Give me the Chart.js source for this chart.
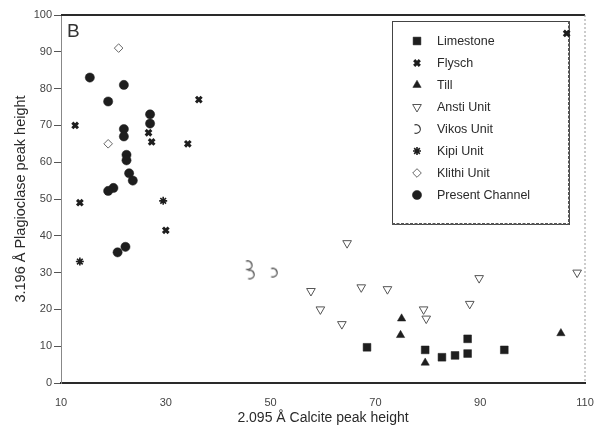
<!DOCTYPE html>
<html>
<head>
<meta charset="utf-8">
<script src="https://cdn.jsdelivr.net/npm/chart.js@4/dist/chart.umd.min.js"></script>
<style>
  html, body { margin: 0; padding: 0; background: #fff; }
  #wrap { width: 599px; height: 431px; }
</style>
</head>
<body>
<div id="wrap"><canvas id="plot" width="599" height="431"></canvas></div>
<script>
// data, [calcite, plagioclase]
const limestone = [[68.4, 9.7], [79.5, 9], [82.7, 7], [85.2, 7.5], [87.6, 8], [87.6, 12], [94.6, 9]];
const flysch = [[12.7, 70], [36.3, 77], [26.7, 68], [27.3, 65.5], [34.2, 65], [13.6, 49], [30, 41.5], [106.5, 95]];
const till = [[75, 17.5], [74.8, 13], [79.5, 5.5], [105.4, 13.5]];
const ansti = [[64.6, 38], [57.7, 25], [67.3, 26], [72.3, 25.5], [59.5, 20], [63.6, 16],
               [89.8, 28.5], [108.5, 30], [88, 21.5], [79.2, 20], [79.7, 17.5]];
const vikos = [[45.8, 32], [46.2, 29.5], [50.6, 30]];
const kipi = [[29.5, 49.5], [13.6, 33]];
const klithi = [[21, 91], [19, 65]];
const presentChannel = [[15.5, 83], [22, 81], [19, 76.5], [27, 73], [27, 70.5], [22, 69], [22, 67],
                        [22.5, 62], [22.5, 60.5], [23, 57], [23.7, 55], [20, 53], [19, 52.2],
                        [22.3, 37], [20.8, 35.5]];

const xTicks = [10, 30, 50, 70, 90, 110];
const yTicks = [0, 10, 20, 30, 40, 50, 60, 70, 80, 90, 100];

const ink = '#1e1e1e';

// reversed C marker for Vikos Unit
const vikosMark = document.createElement('canvas');
vikosMark.width = 12; vikosMark.height = 12;
(function () {
    const c = vikosMark.getContext('2d');
    c.strokeStyle = '#333';
    c.lineWidth = 1.2;
    c.beginPath();
    c.arc(5, 6, 4.3, -Math.PI * 0.62, Math.PI * 0.62);
    c.stroke();
})();

const toPts = arr => arr.map(p => ({ x: p[0], y: p[1] }));

const series = [
    { label: 'Limestone', data: limestone, pointStyle: 'rect', radius: 5.5, fill: ink, stroke: ink, bw: 0.5 },
    { label: 'Flysch', data: flysch, pointStyle: 'crossRot', radius: 4, fill: ink, stroke: ink, bw: 3 },
    { label: 'Till', data: till, pointStyle: 'triangle', radius: 4.8, fill: ink, stroke: ink, bw: 0.5 },
    { label: 'Ansti Unit', data: ansti, pointStyle: 'triangle', rotation: 180, radius: 5, fill: 'rgba(0,0,0,0)', stroke: '#555', bw: 1 },
    { label: 'Vikos Unit', data: vikos, pointStyle: vikosMark, radius: 5, fill: 'rgba(0,0,0,0)', stroke: '#333', bw: 1 },
    { label: 'Kipi Unit', data: kipi, pointStyle: 'star', radius: 4, fill: ink, stroke: ink, bw: 1.6 },
    { label: 'Klithi Unit', data: klithi, pointStyle: 'rectRot', radius: 4.3, fill: 'rgba(0,0,0,0)', stroke: '#666', bw: 1 },
    { label: 'Present Channel', data: presentChannel, pointStyle: 'circle', radius: 4.6, fill: ink, stroke: ink, bw: 0.5 }
];

// legend box drawn inside the plot (under the points), plus the frame and the panel letter
const insideLegend = {
    id: 'insideLegend',
    beforeDatasetsDraw(chart) {
        const ctx = chart.ctx;
        ctx.save();

        const bx = 392, by = 21, bw = 177, bh = 203;
        ctx.fillStyle = '#fff';
        ctx.fillRect(bx, by, bw, bh);
        ctx.strokeStyle = '#444';
        ctx.lineWidth = 1;
        ctx.strokeRect(bx + 0.5, by + 0.5, bw, bh);
        ctx.strokeStyle = '#555';
        ctx.lineWidth = 2;
        ctx.setLineDash([3, 1.5]);
        ctx.beginPath();
        ctx.moveTo(bx + bw, by);
        ctx.lineTo(bx + bw, by + bh);
        ctx.moveTo(bx, by + bh);
        ctx.lineTo(bx + bw, by + bh);
        ctx.stroke();
        ctx.setLineDash([]);

        ctx.font = '12.5px "Liberation Sans", Arial, sans-serif';
        ctx.textBaseline = 'middle';
        ctx.textAlign = 'left';
        series.forEach((s, i) => {
            const y = 41 + i * 22;
            ctx.fillStyle = s.fill;
            ctx.strokeStyle = s.stroke;
            ctx.lineWidth = s.bw;
            Chart.helpers.drawPoint(ctx, {
                pointStyle: s.pointStyle,
                radius: s.radius,
                rotation: s.rotation || 0,
                borderWidth: s.bw
            }, 417, y);
            ctx.fillStyle = '#2a2a2a';
            ctx.fillText(s.label, 437, y + 1);
        });
        ctx.restore();
    },
    afterDraw(chart) {
        const ctx = chart.ctx;
        const area = chart.chartArea;
        ctx.save();

        // top and right edges of the frame
        ctx.strokeStyle = '#2a2a2a';
        ctx.lineWidth = 2;
        ctx.beginPath();
        ctx.moveTo(area.left, area.top);
        ctx.lineTo(area.right, area.top);
        ctx.stroke();
        ctx.strokeStyle = '#999';
        ctx.lineWidth = 1;
        ctx.setLineDash([2, 2]);
        ctx.beginPath();
        ctx.moveTo(area.right, area.top);
        ctx.lineTo(area.right, area.bottom);
        ctx.stroke();
        ctx.setLineDash([]);

        // panel letter
        ctx.fillStyle = '#333';
        ctx.font = '19px "Liberation Sans", Arial, sans-serif';
        ctx.textBaseline = 'alphabetic';
        ctx.textAlign = 'left';
        ctx.fillText('B', 67, 37);
        ctx.restore();
    }
};

new Chart(document.getElementById('plot'), {
    type: 'scatter',
    data: {
        datasets: series.map(s => ({
            label: s.label,
            data: toPts(s.data),
            pointStyle: s.pointStyle,
            pointRadius: s.radius,
            pointHoverRadius: s.radius,
            pointRotation: s.rotation || 0,
            backgroundColor: s.fill,
            borderColor: s.stroke,
            borderWidth: s.bw
        }))
    },
    options: {
        responsive: false,
        animation: false,
        layout: { padding: { top: 15, right: 14, left: 0, bottom: 0 } },
        plugins: {
            legend: { display: false },
            tooltip: { enabled: false }
        },
        scales: {
            x: {
                type: 'linear',
                min: 10,
                max: 110,
                afterBuildTicks: axis => { axis.ticks = xTicks.map(v => ({ value: v })); },
                afterFit: axis => { axis.height = 48; axis.paddingRight = 0; axis.paddingLeft = 0; },
                grid: { display: true, drawOnChartArea: false, drawTicks: false },
                border: { color: '#2a2a2a', width: 2 },
                ticks: {
                    padding: 13,
                    color: '#444',
                    font: { family: '"Liberation Sans", Arial, sans-serif', size: 11 }
                },
                title: {
                    display: true,
                    text: '2.095 Å Calcite peak height',
                    color: '#2a2a2a',
                    padding: { top: 0, bottom: 4 },
                    font: { family: '"Liberation Sans", Arial, sans-serif', size: 14 }
                }
            },
            y: {
                type: 'linear',
                min: 0,
                max: 100,
                afterBuildTicks: axis => { axis.ticks = yTicks.map(v => ({ value: v })); },
                afterFit: axis => { axis.width = 61; },
                grid: { display: true, drawOnChartArea: false, drawTicks: true, tickLength: 7, color: '#555' },
                border: { color: '#888', width: 1, dash: [2, 2] },
                ticks: {
                    padding: 2,
                    color: '#444',
                    font: { family: '"Liberation Sans", Arial, sans-serif', size: 11 }
                },
                title: {
                    display: true,
                    text: '3.196 Å Plagioclase peak height',
                    color: '#2a2a2a',
                    padding: { top: 12, bottom: 0 },
                    font: { family: '"Liberation Sans", Arial, sans-serif', size: 14.5 }
                }
            }
        }
    },
    plugins: [insideLegend]
});
</script>
</body>
</html>
